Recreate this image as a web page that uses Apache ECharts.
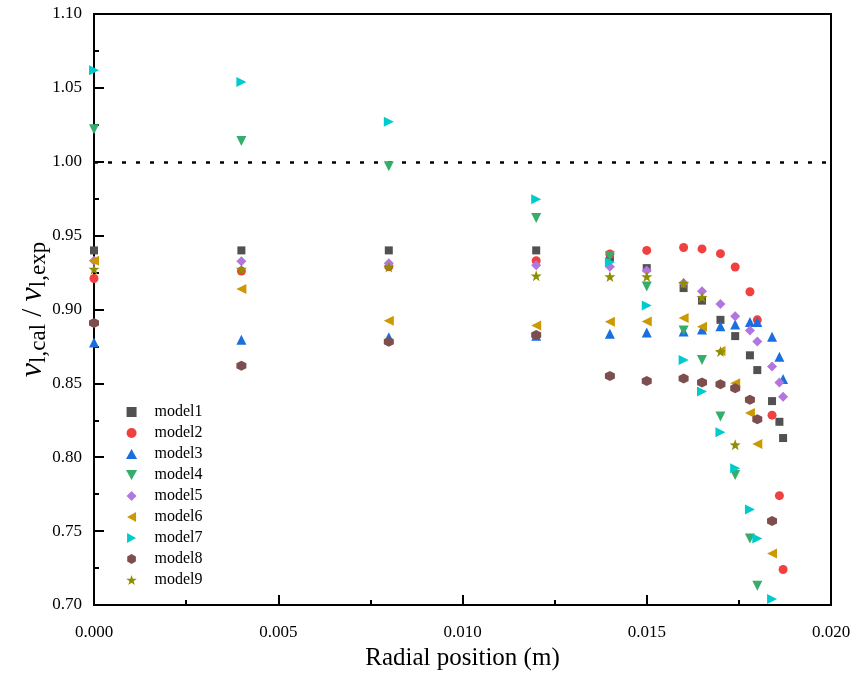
<!DOCTYPE html>
<html>
<head>
<meta charset="utf-8">
<script src="https://cdn.jsdelivr.net/npm/echarts@6/dist/echarts.min.js"></script>
<style>html,body{margin:0;padding:0;background:#fff;}#c{width:856px;height:676px;}</style>
</head>
<body>
<div id="c"></div>
<script>
// Radial positions (m) shared by all models
const radial = [0, 0.004, 0.008, 0.012, 0.014, 0.015, 0.016, 0.0165, 0.017, 0.0174, 0.0178, 0.018, 0.0184, 0.0186, 0.0187];
const model1 = [0.940, 0.940, 0.940, 0.940, 0.935, 0.928, 0.9145, 0.906, 0.893, 0.882, 0.869, 0.859, 0.838, 0.824, 0.813];
const model2 = [0.921, 0.926, 0.929, 0.933, 0.9376, 0.940, 0.942, 0.941, 0.9378, 0.9288, 0.912, 0.893, 0.8285, 0.774, 0.724];
const model3 = [0.8777, 0.8795, 0.8813, 0.8822, 0.8836, 0.8845, 0.8851, 0.8865, 0.8887, 0.8899, 0.8915, 0.8915, 0.8816, 0.868, 0.853];
const model4 = [1.022, 1.014, 0.997, 0.962, 0.936, 0.9155, 0.8858, 0.8658, 0.8276, 0.788, 0.745, 0.713];
const model5 = [0.933, 0.9327, 0.9313, 0.930, 0.929, 0.9264, 0.918, 0.9123, 0.9038, 0.8955, 0.8858, 0.8784, 0.8614, 0.8506, 0.841];
const model6 = [0.933, 0.9138, 0.8924, 0.8892, 0.8917, 0.8919, 0.8942, 0.8883, 0.8719, 0.8501, 0.8299, 0.809, 0.7348];
const model7 = [1.062, 1.054, 1.027, 0.9746, 0.932, 0.9027, 0.8658, 0.8445, 0.817, 0.7926, 0.7647, 0.745, 0.704];
const model8 = [0.8908, 0.862, 0.8782, 0.8827, 0.855, 0.8516, 0.8533, 0.8506, 0.8494, 0.8467, 0.839, 0.8258, 0.7568];
const model9 = [0.9273, 0.9273, 0.9287, 0.9228, 0.9223, 0.9223, 0.9178, 0.9083, 0.8715, 0.8085];
const modelNames = ['model1','model2','model3','model4','model5','model6','model7','model8','model9'];
const modelValues = [model1, model2, model3, model4, model5, model6, model7, model8, model9];
const referenceValue = 1.0;
const xTicks = { min: 0, max: 0.02, interval: 0.005 };
const yTicks = { min: 0.7, max: 1.1, interval: 0.05 };

const colors = ['#515151','#F14040','#1A6FDF','#37AD6B','#B177DE','#CC9900','#00CBCC','#7D4E4E','#8E8E00'];
const symbols = [
  'path://M0,0L10,0L10,10L0,10Z',
  'circle',
  'path://M5,0L10,9L0,9Z',
  'path://M0,0L10,0L5,9Z',
  'path://M5,0L10,5L5,10L0,5Z',
  'path://M9,0L9,10L0,5Z',
  'path://M0,0L9,5L0,10Z',
  'path://M5,0L9.33,2.5L9.33,7.5L5,10L0.67,7.5L0.67,2.5Z',
  'path://M5,0L6.18,3.38L9.76,3.45L6.9,5.62L7.94,9.05L5,7L2.06,9.05L3.1,5.62L0.24,3.45L3.82,3.38Z'
];
const sizes = [8, 9, 10, 10, 10, 10, 10, 10, 11];
const serif = '"Liberation Serif", "DejaVu Serif", serif';

const series = modelNames.map((name, i) => ({
  name: name,
  type: 'scatter',
  symbol: symbols[i],
  symbolSize: sizes[i],
  itemStyle: { color: colors[i], opacity: 1 },
  data: modelValues[i].map((v, k) => [radial[k], v]),
  z: 3 + i
}));
series[0].markLine = {
  silent: true,
  symbol: ['none', 'none'],
  label: { show: false },
  lineStyle: { color: '#000', type: [4, 10], width: 2.5 },
  data: [[{ coord: [xTicks.min, referenceValue] }, { coord: [xTicks.max, referenceValue] }]],
  animation: false
};

const chart = echarts.init(document.getElementById('c'), null, { renderer: 'canvas' });
chart.setOption({
  animation: false,
  backgroundColor: '#fff',
  grid: { left: 94, right: 25, top: 14, bottom: 69, show: true, borderColor: '#000', borderWidth: 2, backgroundColor: 'transparent' },
  legend: {
    orient: 'vertical',
    left: 121,
    top: 399,
    itemWidth: 38,
    itemHeight: 10,
    itemGap: 5,
    symbolKeepAspect: true,
    textStyle: { fontFamily: serif, fontSize: 16, color: '#000', padding: [0, 0, 0, -1] },
    data: modelNames
  },
  xAxis: {
    type: 'value',
    min: xTicks.min, max: xTicks.max, interval: xTicks.interval,
    name: 'Radial position (m)',
    nameLocation: 'middle',
    nameGap: 41,
    nameMoveOverlap: false,
    nameTextStyle: { fontFamily: serif, fontSize: 25, color: '#000' },
    axisLine: { show: true, onZero: false, lineStyle: { color: '#000', width: 2 } },
    axisTick: { show: true, inside: true, length: 10, lineStyle: { color: '#000', width: 2 } },
    minorTick: { show: true, splitNumber: 2, length: 5, lineStyle: { color: '#000', width: 2 } },
    axisLabel: { fontFamily: serif, fontSize: 17, color: '#000', margin: 19, formatter: v => v.toFixed(3) },
    splitLine: { show: false }
  },
  yAxis: {
    type: 'value',
    min: yTicks.min, max: yTicks.max, interval: yTicks.interval,
    name: '{i|v}{s|l,cal}{n| / }{i|v}{s|l,exp}',
    nameLocation: 'middle',
    nameRotate: 90,
    nameGap: 44,
    nameMoveOverlap: false,
    nameTextStyle: {
      color: '#000',
      rich: {
        i: { fontFamily: serif, fontStyle: 'italic', fontSize: 32, lineHeight: 34, verticalAlign: 'middle', color: '#000' },
        s: { fontFamily: serif, fontSize: 23, lineHeight: 22, verticalAlign: 'bottom', color: '#000' },
        n: { fontFamily: serif, fontSize: 29, lineHeight: 34, verticalAlign: 'middle', color: '#000' }
      }
    },
    axisLine: { show: true, onZero: false, lineStyle: { color: '#000', width: 2 } },
    axisTick: { show: true, inside: true, length: 10, lineStyle: { color: '#000', width: 2 } },
    minorTick: { show: true, splitNumber: 2, length: 5, lineStyle: { color: '#000', width: 2 } },
    axisLabel: { fontFamily: serif, fontSize: 17, color: '#000', margin: 12, formatter: v => v.toFixed(2) },
    splitLine: { show: false }
  },
  series: series
});
</script>
</body>
</html>
